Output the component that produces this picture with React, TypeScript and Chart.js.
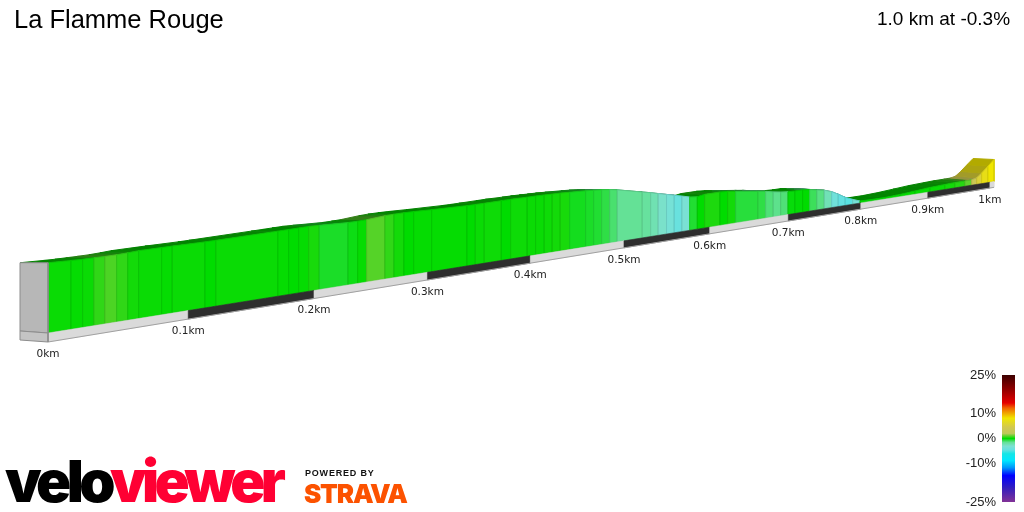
import * as React from 'react';
import {useRef, useEffect} from 'react';
import {Chart, registerables} from 'chart.js';

Chart.register(...registerables);

// distance of each sample along the segment (km)
const distances = [
  0, 0.0157, 0.0237, 0.0316, 0.0393, 0.0476, 0.0555, 0.0634, 0.0802, 0.0881,
  0.1128, 0.1212, 0.1703, 0.1791, 0.1873, 0.1956, 0.2045, 0.229, 0.2374, 0.2452,
  0.2614, 0.2695, 0.2785, 0.2874, 0.304, 0.3374, 0.3454, 0.3541, 0.3709, 0.3802,
  0.397, 0.4055, 0.4144, 0.4227, 0.4311, 0.441, 0.458, 0.4667, 0.4754, 0.4842,
  0.4926, 0.5207, 0.5303, 0.539, 0.5486, 0.5577, 0.5668, 0.5759, 0.5851, 0.594,
  0.6127, 0.6222, 0.6322, 0.6605, 0.6704, 0.6803, 0.69, 0.6996, 0.7089, 0.7192,
  0.7287, 0.7386, 0.7487, 0.7589, 0.7681, 0.7779, 0.7885, 0.7989, 0.8162, 0.8352,
  0.8577, 0.8804, 0.9035, 0.927, 0.9429, 0.9591, 0.97, 0.9782, 0.9864, 0.9969, 1.007,
];

// elevation at each sample (m above the base of the wall)
const elevations = [
  6.02, 5.95, 5.92, 5.92, 5.91, 5.92, 5.96, 6.02, 6.03, 6.03,
  6.02, 6.03, 6.12, 6.14, 6.16, 6.18, 6.15, 6.05, 6.06, 6.09,
  6.24, 6.28, 6.29, 6.28, 6.23, 6.17, 6.17, 6.18, 6.21, 6.23,
  6.22, 6.23, 6.22, 6.2, 6.19, 6.15, 6.08, 6.03, 5.96, 5.86,
  5.72, 5.11, 4.9, 4.69, 4.46, 4.25, 4.03, 3.8, 3.7, 3.86,
  3.87, 3.82, 3.68, 3.32, 3.19, 2.98, 2.84, 2.75, 2.71, 2.71,
  2.61, 2.44, 2.27, 1.96, 1.52, 1.0, 0.61, 0.26, 0.21, 0.2,
  0.28, 0.42, 0.57, 0.65, 0.7, 0.7, 0.72, 0.88, 1.42, 2.23, 2.99,
];

// gradient shown on each strip between two samples (%)
const grades = [
  0.1, 0.05, 0.1, 0.5, 0.8, 0.5, 0.2, 0.1, 0.05, 0.1,
  0, 0.1, 0.05, 0, 0.05, 0.25, -0.4, -0.2, 0.05, 0.9,
  0.5, 0.2, 0, 0.05, 0.05, 0, 0.1, 0.15, 0, 0.15,
  0.1, 0.1, 0.15, 0.2, 0.25, -0.3, -0.4, -0.5, -0.7, -1.1,
  -1.5, -1.7, -2.2, -2.8, -3.4, -4.2, -3.2, -0.5, 0, 0.3,
  0, 0.2, -0.6, -0.7, -1.2, -1.4, -1.2, -0.1, -0.05, 0,
  -0.9, -1.3, -2.3, -3.8, -4.5, -4.7, -3.5, 0, 0, 0.05,
  0.05, 0.05, 0.1, 0.2, 0.4, 1, 3.5, 5.5, 7, 8,
];

const kmTicks = [0, 0.1, 0.2, 0.3, 0.4, 0.5, 0.6, 0.7, 0.8, 0.9, 1];
const kmLabels = ['0km', '0.1km', '0.2km', '0.3km', '0.4km', '0.5km', '0.6km', '0.7km', '0.8km', '0.9km', '1km'];
const legendTicks = [25, 10, 0, -10, -25];
const legendLabels = ['25%', '10%', '0%', '-10%', '-25%'];

// colour ramp of the legend: [grade, r, g, b]
const ramp = [
  [25, 60, 0, 0], [19, 150, 0, 0], [14, 230, 0, 0], [12, 240, 100, 0], [8, 240, 230, 0],
  [4.4, 210, 200, 80], [2, 190, 200, 90], [0, 0, 220, 0], [-1.5, 100, 225, 150], [-3, 125, 225, 210],
  [-4.5, 100, 225, 225], [-6, 20, 230, 230], [-8.7, 0, 230, 255], [-11.5, 0, 150, 250],
  [-14.6, 0, 0, 255], [-19.4, 50, 30, 190], [-25, 130, 50, 150],
];

function gradeRgb(g: number): number[] {
  for (let i = 0; i < ramp.length - 1; i++) {
    const a = ramp[i], b = ramp[i + 1];
    if (g <= a[0] && g >= b[0]) {
      const t = (a[0] - g) / (a[0] - b[0]);
      return [1, 2, 3].map(k => Math.round(a[k] + (b[k] - a[k]) * t));
    }
  }
  return ramp[0].slice(1);
}
const css = (c: number[], f = 1) => `rgb(${c.map(v => Math.round(v * f)).join(',')})`;

// the ribbon is seen in perspective, this turns km + metres into page positions
const depthScale = (km: number) => 1 / (1 + 0.574 * km);
const frontX = (km: number) => 48 + 1482.5 * km * depthScale(km);
const groundY = (km: number) => 342 - 0.1635 * (frontX(km) - 48);
const front = (km: number, m: number) => ({x: frontX(km), y: groundY(km) - (9 + m * 11.67) * depthScale(km)});
const back = (km: number, m: number) => ({
  x: frontX(km) - (28 - 7 * km),
  y: front(km, m).y - 2 * Math.max(0, 1 - m / 6),
});
const ground = (km: number) => ({x: frontX(km), y: groundY(km)});
const groundBack = (km: number) => ({x: frontX(km) - (28 - 7 * km), y: groundY(km) - 2});
const legendY = (g: number) => 438.5 - 2.54 * g;

function shape(points: {x: number, y: number}[], color: any, border = color, width = 1) {
  return {
    data: [...points, points[0]],
    showLine: true,
    fill: 'shape',
    backgroundColor: color,
    borderColor: border,
    borderWidth: width,
    pointRadius: 0,
    clip: false,
  };
}

function buildDatasets(legendFill: any) {
  const layers: any[] = [];
  const end = distances[distances.length - 1];

  // top surface of the ribbon
  grades.forEach((g, i) => {
    const a = distances[i], b = distances[i + 1];
    const c = css(gradeRgb(g), g > 3 ? 0.74 : 0.6);
    layers.push(shape([front(a, elevations[i]), front(b, elevations[i + 1]), back(b, elevations[i + 1]), back(a, elevations[i])], c));
  });
  // front wall
  grades.forEach((g, i) => {
    const a = distances[i], b = distances[i + 1];
    const rgb = gradeRgb(g);
    layers.push(shape([front(a, elevations[i]), front(b, elevations[i + 1]), front(b, 0), front(a, 0)], css(rgb), css(rgb, 0.9)));
  });
  // 100m bands under the wall
  [...kmTicks, end].forEach((km, i, all) => {
    if (i === all.length - 1) return;
    const next = all[i + 1];
    const c = i % 2 ? '#2e2e2e' : '#dadada';
    layers.push(shape([front(km, 0), front(next, 0), ground(next), ground(km)], c, c, 0.5));
  });
  layers.push({
    data: [ground(0), ground(end)],
    showLine: true,
    borderColor: '#a0a0a0',
    borderWidth: 1,
    pointRadius: 0,
    clip: false,
  });
  // grey end of the ribbon
  layers.push(shape([back(0, elevations[0]), front(0, elevations[0]), front(0, 0), back(0, 0)], '#b7b7b7', '#8c8c8c'));
  layers.push(shape([back(0, 0), front(0, 0), ground(0), groundBack(0)], '#c4c4c4', '#8c8c8c'));
  // legend bar
  layers.push(shape([
    {x: 1002, y: legendY(25)}, {x: 1015, y: legendY(25)},
    {x: 1015, y: legendY(-25)}, {x: 1002, y: legendY(-25)},
  ], legendFill, 'rgba(0,0,0,0)', 0));
  return layers.reverse(); // first dataset is painted last
}

const labelsPlugin = {
  id: 'ribbonLabels',
  afterDraw(chart: any) {
    const {ctx, scales} = chart;
    ctx.save();
    ctx.textBaseline = 'middle';
    ctx.fillStyle = '#222';
    ctx.textAlign = 'center';
    ctx.font = '10.5px "DejaVu Sans"';
    kmTicks.forEach((km, i) => {
      const p = ground(km);
      ctx.fillText(kmLabels[i], scales.x.getPixelForValue(p.x), scales.y.getPixelForValue(p.y + 12));
    });
    ctx.textAlign = 'right';
    ctx.font = '13px "Liberation Sans"';
    legendTicks.forEach((g, i) => {
      ctx.fillText(legendLabels[i], scales.x.getPixelForValue(996), scales.y.getPixelForValue(legendY(g)));
    });
    ctx.restore();
  },
};

const abs = (left: number, top: number): React.CSSProperties => ({
  position: 'absolute', left, top, whiteSpace: 'nowrap',
});

export default function App(): JSX.Element {
  const chartContainer = useRef<HTMLCanvasElement>(null);

  useEffect(() => {
    const canvas = chartContainer.current;
    if (!canvas) return;
    const ctx = canvas.getContext('2d') as CanvasRenderingContext2D;
    const legendFill = ctx.createLinearGradient(0, legendY(25), 0, legendY(-25));
    ramp.forEach(r => legendFill.addColorStop((25 - r[0]) / 50, `rgb(${r[1]},${r[2]},${r[3]})`));

    const chart = new Chart(canvas, {
      type: 'scatter',
      data: {datasets: buildDatasets(legendFill)},
      options: {
        animation: false,
        responsive: false,
        devicePixelRatio: 1,
        layout: {padding: 0},
        plugins: {legend: {display: false}, tooltip: {enabled: false}},
        scales: {
          x: {type: 'linear', display: false, min: 0, max: 1024},
          y: {type: 'linear', display: false, min: 0, max: 512, reverse: true},
        },
      },
      plugins: [labelsPlugin],
    } as any);
    return () => chart.destroy();
  }, []);

  return (
    <div style={{position: 'absolute', left: 0, top: 0, width: 1024, height: 512, overflow: 'hidden', background: '#fff'}}>
      <canvas ref={chartContainer} width={1024} height={512} style={{display: 'block'}} />
      <div style={{...abs(14, 5), font: '25.5px "Liberation Sans"', color: '#000'}}>La Flamme Rouge</div>
      <div style={{...abs(877, 8), font: '19px "Liberation Sans"', color: '#000'}}>1.0 km at -0.3%</div>
      <div style={{...abs(5, 446), font: '900 58px Inter', letterSpacing: '-4.6px', color: '#000'}}>
        velo<span style={{color: '#ff0033'}}>viewer</span>
      </div>
      <div style={{...abs(305, 468), font: 'bold 9px "Liberation Sans"', letterSpacing: '0.8px', color: '#111'}}>POWERED BY</div>
      <div style={{...abs(304, 478), font: '900 26px Inter', letterSpacing: '-1.2px', color: '#fc5200'}}>STRAVA</div>
    </div>
  );
}
